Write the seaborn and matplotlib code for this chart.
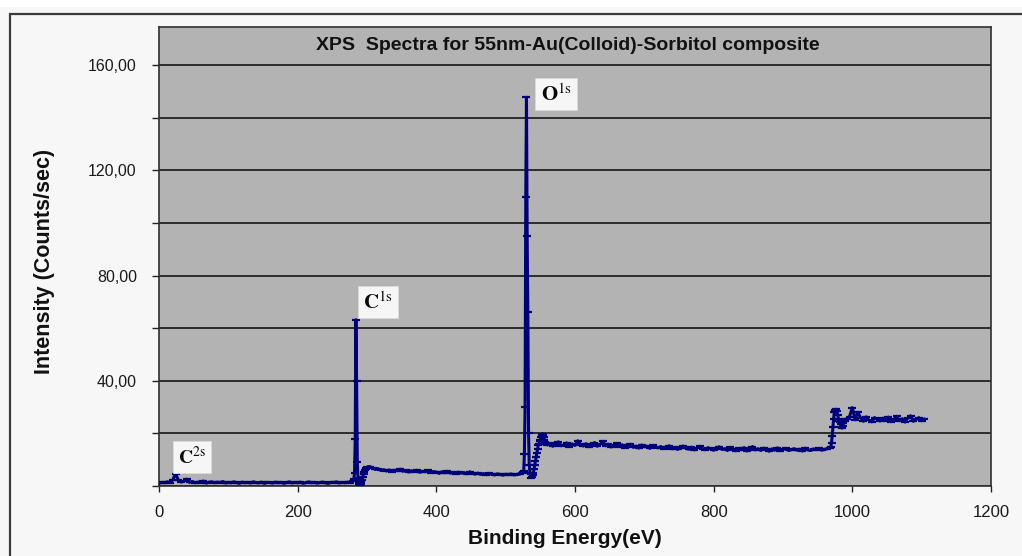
import numpy as np
import pandas as pd
import seaborn as sns
import matplotlib.pyplot as plt
from matplotlib.patches import Rectangle
from matplotlib.ticker import MultipleLocator, FuncFormatter

# ---- spectrum data (binding energy in eV, intensity in counts/sec) ----
# low-energy background incl. the small C2s feature, 0-280 eV every 4 eV
low_start, low_step = 0, 4
low_counts = [
    1.0, 1.4, 1.2, 1.6, 1.3, 2.4, 4.7, 2.1, 1.5, 1.8,
    2.6, 1.4, 1.7, 1.2, 1.5, 1.3, 1.9, 1.1, 1.4, 1.6,
    1.2, 1.5, 1.3, 1.7, 1.1, 1.4, 1.2, 1.6, 1.3, 1.0,
    1.5, 1.2, 1.4, 1.1, 1.6, 1.3, 1.2, 1.5, 1.0, 1.4,
    1.3, 1.1, 1.5, 1.2, 1.4, 1.0, 1.3, 1.6, 1.1, 1.4,
    1.2, 1.5, 1.0, 1.3, 1.6, 1.2, 1.4, 1.1, 1.3, 1.5,
    1.2, 1.0, 1.4, 1.3, 1.6, 1.1, 1.4, 1.2, 1.5, 1.3,
    1.8,
]
# C1s region, 281-299 eV every 1 eV
c1s_start, c1s_step = 281, 1
c1s_counts = [
    2.5, 5.0, 18.0, 63.2, 40.0, 9.0, 3.0, 1.2, 0.6, 0.4,
    1.5, 0.8, 2.2, 3.5, 4.6, 5.4, 6.0, 6.6, 7.0,
]
# background between C1s and O1s, 300-524 eV every 4 eV
mid1_start, mid1_step = 300, 4
mid1_counts = [
    7.2, 7.4, 6.8, 6.3, 6.6, 5.9, 6.2, 5.7, 6.1, 5.5,
    6.0, 5.8, 6.4, 5.6, 5.9, 5.3, 5.8, 5.5, 6.0, 5.2,
    5.6, 5.4, 5.9, 5.1, 5.5, 5.3, 4.8, 5.4, 5.0, 5.6,
    4.9, 5.2, 4.7, 5.3, 4.9, 5.1, 4.6, 5.4, 4.8, 4.5,
    4.9, 4.4, 4.7, 4.3, 4.8, 4.5, 4.2, 4.6, 4.4, 4.1,
    4.5, 4.3, 4.6, 4.2, 4.4, 4.5, 5.0,
]
# O1s region, 525-559 eV every 1 eV
o1s_start, o1s_step = 525, 1
o1s_counts = [
    5.2, 5.6, 12.0, 30.0, 110.0, 147.8, 95.0, 66.0, 20.0, 8.0,
    5.0, 4.5, 3.2, 3.6, 4.2, 5.0, 6.5, 8.0, 9.5, 11.0,
    12.5, 14.0, 15.5, 16.0, 17.5, 17.0, 18.5, 19.2, 19.8, 19.4,
    18.6, 17.5, 16.8, 16.0, 15.8,
]
# background between O1s and the Au edge, 560-968 eV every 4 eV
mid2_start, mid2_step = 560, 4
mid2_counts = [
    15.6, 16.2, 15.1, 15.9, 16.8, 15.3, 15.7, 16.4, 15.0, 16.0,
    15.4, 17.2, 15.8, 15.2, 16.1, 14.9, 15.6, 16.5, 15.1, 15.8,
    17.0, 15.3, 15.9, 14.8, 15.5, 16.2, 15.0, 15.7, 14.6, 15.4,
    15.9, 14.7, 15.2, 14.4, 15.6, 14.9, 15.1, 14.3, 15.4, 14.8,
    14.5, 15.0, 14.2, 14.8, 15.3, 14.1, 14.7, 13.9, 14.6, 15.2,
    14.3, 14.0, 14.8, 13.7, 14.5, 15.1, 14.2, 13.8, 14.6, 14.0,
    13.6, 14.4, 14.9, 13.9, 14.2, 13.5, 14.7, 14.1, 13.4, 14.3,
    13.8, 14.6, 13.3, 14.0, 15.0, 13.7, 14.2, 13.5, 14.4, 13.9,
    13.2, 14.1, 13.6, 14.5, 13.4, 13.9, 14.3, 13.5, 13.8, 14.2,
    13.6, 14.0, 13.3, 14.4, 13.7, 13.5, 14.1, 13.8, 14.3, 13.6,
    13.9, 14.2, 14.6,
]
# step near 970 eV, 969-990 eV every 1 eV
edge_start, edge_step = 969, 1
edge_counts = [
    15.0, 16.5, 19.0, 22.5, 25.5, 28.0, 29.0, 28.6, 29.2, 28.4,
    27.0, 25.5, 24.8, 24.2, 23.5, 22.6, 22.0, 23.0, 24.0, 24.6,
    25.3, 24.8,
]
# high-energy tail, 992-1104 eV every 4 eV
high_start, high_step = 992, 4
high_counts = [
    25.6, 26.4, 29.8, 25.2, 28.0, 25.9, 24.6, 26.3, 25.0, 24.4,
    26.0, 25.3, 24.7, 25.8, 24.9, 26.2, 24.5, 25.4, 26.5, 24.8,
    25.6, 24.3, 25.9, 26.7, 24.6, 25.3, 26.0, 24.8, 25.5,
]

segments = [
    (low_start, low_step, low_counts),
    (c1s_start, c1s_step, c1s_counts),
    (mid1_start, mid1_step, mid1_counts),
    (o1s_start, o1s_step, o1s_counts),
    (mid2_start, mid2_step, mid2_counts),
    (edge_start, edge_step, edge_counts),
    (high_start, high_step, high_counts),
]
energy = np.concatenate([s + st * np.arange(len(c)) for s, st, c in segments])
counts = np.concatenate([np.asarray(c, float) for _, _, c in segments])
df = pd.DataFrame({"Binding Energy (eV)": energy, "Intensity": counts})

# peak annotations: (main letter, superscript, energy, intensity, size)
peak_labels = [
    ("C", "2s", 47.5, 10.9, 14),
    ("C", "1s", 315.9, 69.9, 15),
    ("O", "1s", 572.6, 149.0, 15),
]

title = "XPS  Spectra for 55nm-Au(Colloid)-Sorbitol composite"
x_label = "Binding Energy(eV)"
y_label = "Intensity (Counts/sec)"
x_ticks = [0, 200, 400, 600, 800, 1000, 1200]

# ---- drawing ----
sns.set_theme(style="white")
plt.rcParams["font.family"] = ["Liberation Sans", "DejaVu Sans"]
plt.rcParams["mathtext.fontset"] = "stix"

W, H = 1022, 556
fig = plt.figure(figsize=(W / 100, H / 100), dpi=100, facecolor="#f7f7f7")

# chart frame
fig.patches.append(Rectangle((0, 1 - 7 / H), 1, 7 / H, transform=fig.transFigure,
                             facecolor="white", edgecolor="none", zorder=0))
fig.patches.append(Rectangle((10 / W, -0.1), 1.2, (H - 14) / H + 0.1,
                             transform=fig.transFigure, fill=False,
                             edgecolor="#3c3c3c", lw=1.6, zorder=1))

ax = fig.add_axes([159 / W, 1 - 486 / H, (991 - 159) / W, (486 - 27) / H])
ax.set_facecolor("#b3b3b3")

sns.lineplot(data=df, x="Binding Energy (eV)", y="Intensity", ax=ax,
             estimator=None, sort=False, color="#00007a", lw=2.2,
             marker="_", markersize=6, markeredgewidth=1.6,
             markeredgecolor="#00007a", zorder=3)

ax.set_xlim(0, 1200)
ax.set_ylim(0, 174.5)
ax.set_xticks(x_ticks)
ax.yaxis.set_major_locator(MultipleLocator(20))
ax.yaxis.set_major_formatter(FuncFormatter(
    lambda v, p: (f"{v:.2f}".replace(".", ",") if (v > 0 and round(v) % 40 == 0) else "")))
ax.grid(axis="y", color="#151515", lw=1.2)
ax.grid(axis="x", visible=False)
ax.set_axisbelow(True)

ax.tick_params(axis="y", direction="out", length=5, width=1, color="#222222",
               pad=11, labelsize=11.5, labelcolor="#1a1a1a", left=True)
ax.tick_params(axis="x", direction="out", length=4.5, width=1, color="#222222",
               pad=9, labelsize=12, labelcolor="#1a1a1a", bottom=True)
for sp in ax.spines.values():
    sp.set_color("#303030")
    sp.set_linewidth(1.2)

ax.set_xlabel("")
ax.set_ylabel("")
fig.text(565 / W, 1 - 538 / H, x_label, ha="center", va="center",
         fontsize=15, fontweight="bold", color="#111111")
fig.text(45 / W, 1 - 261.5 / H, y_label, ha="center", va="center",
         rotation=90, fontsize=15.5, fontweight="bold", color="#111111")

ax.text((568 - 159) / 832, (486 - 46) / 459, title, transform=ax.transAxes,
        ha="center", va="center", fontsize=14, fontweight="bold",
        color="#111111")

for main, sup, ex, iy, fs in peak_labels:
    ax.text(ex, iy, rf"$\mathbf{{{main}}}^{{\mathrm{{{sup}}}}}$",
            ha="center", va="center", fontsize=fs, color="#0a0a0a", zorder=5,
            bbox=dict(boxstyle="square,pad=0.25", facecolor="#f6f6f6",
                      edgecolor="#dcdcdc", lw=0.6))

fig.savefig("out.png", dpi=100, facecolor=fig.get_facecolor())
